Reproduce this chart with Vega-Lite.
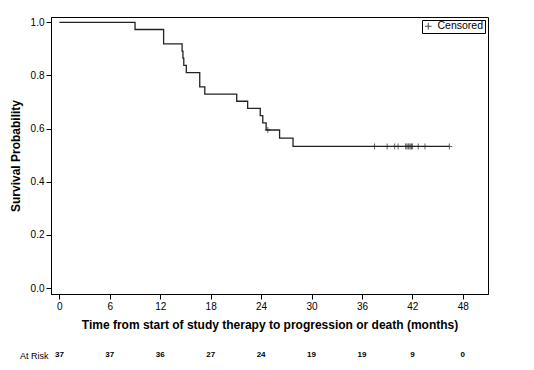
{
  "$schema": "https://vega.github.io/schema/vega-lite/v6.json",
  "padding": {"left": 8, "top": 16, "right": 5, "bottom": 5},
  "background": "white",
  "datasets": {
    "km": [
      {"t": 0, "s": 1.0},
      {"t": 9.0, "s": 0.973},
      {"t": 12.4, "s": 0.919},
      {"t": 14.6, "s": 0.892},
      {"t": 14.7, "s": 0.865},
      {"t": 14.8, "s": 0.838},
      {"t": 15.1, "s": 0.811},
      {"t": 16.7, "s": 0.757},
      {"t": 17.3, "s": 0.73},
      {"t": 21.1, "s": 0.703},
      {"t": 22.4, "s": 0.676},
      {"t": 23.9, "s": 0.649},
      {"t": 24.2, "s": 0.622},
      {"t": 24.6, "s": 0.595},
      {"t": 26.2, "s": 0.564},
      {"t": 27.8, "s": 0.533},
      {"t": 46.4, "s": 0.533}
    ],
    "cens": [
      {"t": 24.8, "s": 0.595, "c": "Censored"},
      {"t": 37.5, "s": 0.533, "c": "Censored"},
      {"t": 39.0, "s": 0.533, "c": "Censored"},
      {"t": 39.9, "s": 0.533, "c": "Censored"},
      {"t": 40.3, "s": 0.533, "c": "Censored"},
      {"t": 41.2, "s": 0.533, "c": "Censored"},
      {"t": 41.35, "s": 0.533, "c": "Censored"},
      {"t": 41.5, "s": 0.533, "c": "Censored"},
      {"t": 41.6, "s": 0.533, "c": "Censored"},
      {"t": 41.75, "s": 0.533, "c": "Censored"},
      {"t": 41.9, "s": 0.533, "c": "Censored"},
      {"t": 42.0, "s": 0.533, "c": "Censored"},
      {"t": 42.7, "s": 0.533, "c": "Censored"},
      {"t": 43.5, "s": 0.533, "c": "Censored"},
      {"t": 46.4, "s": 0.533, "c": "Censored"}
    ],
    "risk": [
      {"t": 0, "n": 37, "row": "At Risk"},
      {"t": 6, "n": 37, "row": "At Risk"},
      {"t": 12, "n": 36, "row": "At Risk"},
      {"t": 18, "n": 27, "row": "At Risk"},
      {"t": 24, "n": 24, "row": "At Risk"},
      {"t": 30, "n": 19, "row": "At Risk"},
      {"t": 36, "n": 19, "row": "At Risk"},
      {"t": 42, "n": 9, "row": "At Risk"},
      {"t": 48, "n": 0, "row": "At Risk"}
    ]
  },
  "spacing": 17,
  "resolve": {"scale": {"x": "independent", "y": "independent"}},
  "vconcat": [
    {
      "width": 437,
      "height": 277,
      "view": {"stroke": "#000", "strokeWidth": 1},
      "layer": [
        {
          "data": {"name": "km"},
          "mark": {"type": "line", "interpolate": "step-after", "color": "#222", "strokeWidth": 1.3},
          "encoding": {
            "x": {"field": "t", "type": "quantitative",
                  "scale": {"domain": [-1, 51], "nice": false, "zero": false},
                  "axis": {"values": [0, 6, 12, 18, 24, 30, 36, 42, 48], "title": "Time from start of study therapy to progression or death (months)"}},
            "y": {"field": "s", "type": "quantitative",
                  "scale": {"domain": [-0.022, 1.02], "nice": false},
                  "axis": {"values": [0, 0.2, 0.4, 0.6, 0.8, 1.0], "format": ".1f", "title": "Survival Probability"}}
          }
        },
        {
          "data": {"name": "cens"},
          "mark": {"type": "point", "filled": false, "stroke": "#222", "strokeWidth": 1, "size": 36},
          "encoding": {
            "x": {"field": "t", "type": "quantitative"},
            "y": {"field": "s", "type": "quantitative"},
            "shape": {"field": "c", "type": "nominal",
                      "scale": {"range": ["M-1,0H1M0,-1V1"]},
                      "legend": {"title": null, "orient": "top-right", "offset": 3,
                                 "strokeColor": "#000", "padding": 1,
                                 "symbolStrokeColor": "#000", "symbolStrokeWidth": 1, "symbolSize": 45,
                                 "labelFont": "Liberation Sans", "labelFontSize": 10.5, "labelColor": "#000", "labelOffset": 4}}
          }
        }
      ]
    },
    {
      "width": 437,
      "height": 14,
      "view": {"stroke": null},
      "data": {"name": "risk"},
      "mark": {"type": "text", "font": "Liberation Sans", "fontSize": 8, "fontWeight": "bold", "color": "#000"},
      "encoding": {
        "x": {"field": "t", "type": "quantitative",
              "scale": {"domain": [-1, 51], "nice": false, "zero": false}, "axis": null},
        "y": {"field": "row", "type": "nominal",
              "axis": {"title": null, "domain": false, "ticks": false, "labelPadding": 3,
                       "labelFontSize": 9, "labelFontWeight": "normal"}},
        "text": {"field": "n", "type": "quantitative"}
      }
    }
  ],
  "config": {
    "font": "Liberation Sans",
    "axis": {
      "grid": false,
      "domainColor": "#000",
      "tickColor": "#000",
      "tickSize": 5,
      "labelColor": "#000",
      "labelFont": "Liberation Sans",
      "labelFontSize": 10,
      "labelPadding": 2,
      "titleFont": "Liberation Sans",
      "titleFontSize": 12,
      "titleFontWeight": "bold",
      "titleColor": "#000",
      "titlePadding": 8
    }
  }
}
